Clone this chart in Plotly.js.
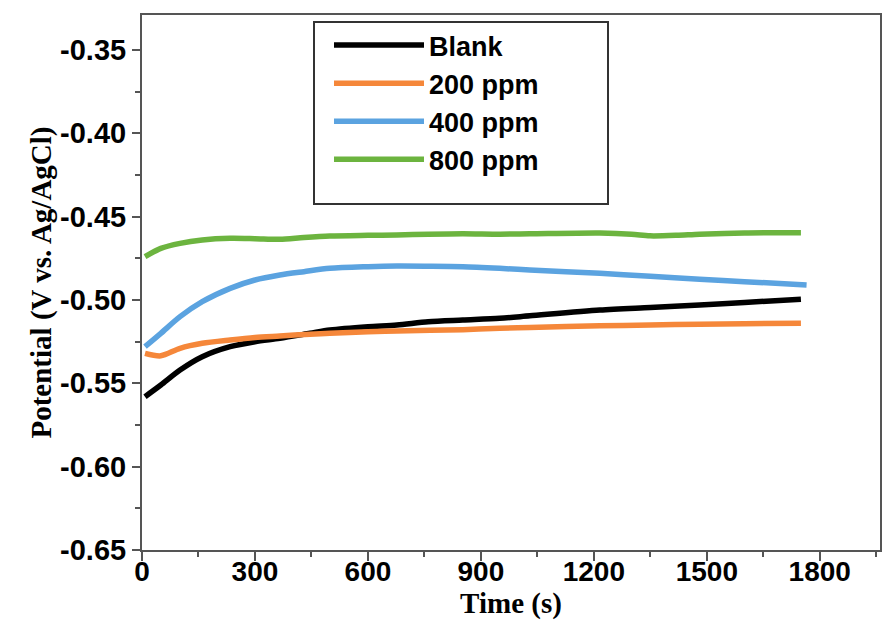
<!DOCTYPE html>
<html>
<head>
<meta charset="utf-8">
<script src="https://cdn.plot.ly/plotly-3.0.1.min.js"></script>
<style>html,body{margin:0;padding:0;background:#fff;}#chart{width:884px;height:622px;}</style>
</head>
<body>
<div id="chart"></div>
<script>
const seriesNames = ["Blank", "200 ppm", "400 ppm", "800 ppm"];
const seriesColors = ["#000000", "#f5873a", "#5ba3e0", "#6cb43f"];

const blankTime = [8, 50, 101, 160, 234, 300, 366, 446, 499, 600, 677, 760, 852, 950, 1030, 1216, 1350, 1481, 1600, 1750];
const blankValue = [-0.558, -0.551, -0.542, -0.534, -0.528, -0.525, -0.523, -0.520, -0.518, -0.516, -0.515, -0.513, -0.512, -0.511, -0.5095, -0.506, -0.5045, -0.503, -0.5015, -0.4995];

const t200Time = [8, 50, 101, 160, 234, 300, 366, 446, 499, 600, 677, 852, 950, 1030, 1216, 1350, 1481, 1600, 1750];
const t200Value = [-0.532, -0.5335, -0.529, -0.526, -0.524, -0.5225, -0.5216, -0.5205, -0.520, -0.519, -0.5186, -0.5178, -0.517, -0.5165, -0.5155, -0.515, -0.5145, -0.5142, -0.514];

const t400Time = [8, 50, 101, 160, 234, 300, 366, 430, 499, 600, 677, 760, 852, 950, 1030, 1216, 1350, 1481, 1600, 1765];
const t400Value = [-0.528, -0.520, -0.510, -0.501, -0.493, -0.488, -0.485, -0.483, -0.481, -0.480, -0.4796, -0.4797, -0.480, -0.481, -0.482, -0.484, -0.4857, -0.4875, -0.489, -0.491];

const t800Time = [8, 50, 101, 160, 234, 300, 366, 430, 499, 600, 677, 760, 852, 950, 1030, 1216, 1300, 1349, 1420, 1481, 1600, 1750];
const t800Value = [-0.474, -0.469, -0.466, -0.464, -0.463, -0.4632, -0.4636, -0.4625, -0.4616, -0.4612, -0.461, -0.4605, -0.4602, -0.4605, -0.4603, -0.4598, -0.4605, -0.4615, -0.4612, -0.4605, -0.4598, -0.4596];

const xTicks = [0, 300, 600, 900, 1200, 1500, 1800];
const yTicks = [-0.65, -0.60, -0.55, -0.50, -0.45, -0.40, -0.35];
const yTickLabels = ["-0.65", "-0.60", "-0.55", "-0.50", "-0.45", "-0.40", "-0.35"];

const xs = [blankTime, t200Time, t400Time, t800Time];
const ys = [blankValue, t200Value, t400Value, t800Value];

const traces = seriesNames.map((n, i) => ({
  x: xs[i], y: ys[i], name: n, type: 'scatter', mode: 'lines',
  legendgroup: 'g' + i,
  line: {color: seriesColors[i], width: 5.5, shape: 'spline', smoothing: 0.8}
}));

const tickFont = {family: 'Liberation Sans, Arial, sans-serif', size: 29, color: '#000', weight: 'bold'};
const titleFont = {family: 'Liberation Serif, Times New Roman, serif', size: 29, color: '#000', weight: 'bold'};

// plot area in pixels: x 142..880, y 15..550
const L = 142, R = 880, T = 15, B = 550;
const px = v => (v - L) / (R - L);
const py = v => (B - v) / (B - T);

const layout = {
  width: 884, height: 622,
  margin: {l: L, r: 884 - R, t: T, b: 622 - B},
  paper_bgcolor: '#fff', plot_bgcolor: '#fff',
  showlegend: true,
  legend: {
    x: px(329), y: py(21), xanchor: 'left', yanchor: 'top',
    borderwidth: 0, bgcolor: 'rgba(0,0,0,0)',
    font: {family: 'Liberation Sans, Arial, sans-serif', size: 27, color: '#000', weight: 'bold'},
    itemwidth: 90, tracegroupgap: 0
  },
  shapes: [{
    type: 'rect', xref: 'paper', yref: 'paper',
    x0: px(314), x1: px(608), y0: py(204), y1: py(22),
    line: {color: '#333', width: 2}, fillcolor: 'rgba(0,0,0,0)', layer: 'above'
  }],
  xaxis: {
    range: [0, 1960], tickvals: xTicks, ticktext: xTicks.map(String),
    ticks: 'outside', ticklen: 9, tickwidth: 2, tickcolor: '#555',
    ticklabelstandoff: -14,
    minor: {dtick: 150, ticks: 'outside', ticklen: 5, tickwidth: 2, tickcolor: '#555', showgrid: false},
    showline: true, linecolor: '#555', linewidth: 2, mirror: true,
    showgrid: false, zeroline: false, tickfont: {...tickFont, size: 28},
    title: {text: 'Time (s)', font: {...titleFont, size: 29}, standoff: 4}
  },
  yaxis: {
    range: [-0.65, -0.329], tickvals: yTicks, ticktext: yTickLabels,
    ticks: 'outside', ticklen: 8, tickwidth: 2, tickcolor: '#555',
    minor: {dtick: 0.025, tick0: -0.65, ticks: 'outside', ticklen: 5, tickwidth: 2, tickcolor: '#555', showgrid: false},
    showline: true, linecolor: '#555', linewidth: 2, mirror: true,
    showgrid: false, zeroline: false, tickfont: tickFont,
    title: {text: 'Potential (V vs. Ag/AgCl)', font: titleFont, standoff: 0}
  }
};

Plotly.newPlot('chart', traces, layout, {displayModeBar: false, staticPlot: true});
</script>
</body>
</html>
